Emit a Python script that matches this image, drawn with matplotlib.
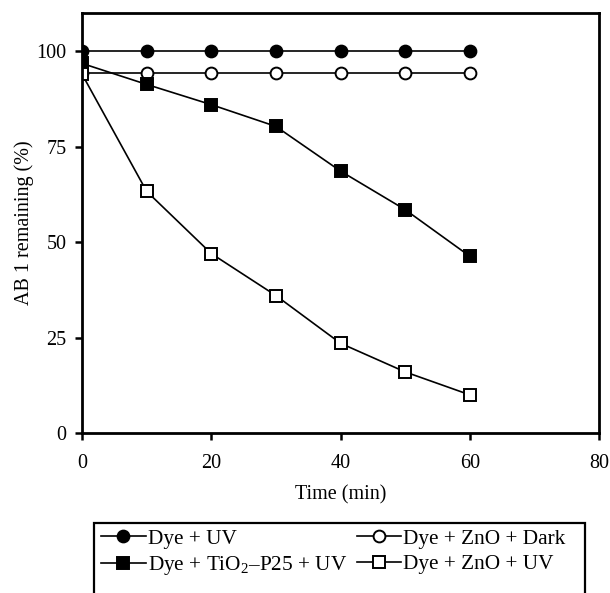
import matplotlib.pyplot as plt
from matplotlib.patches import Rectangle

plt.rcParams['font.family'] = ['Liberation Serif', 'DejaVu Serif']
plt.rcParams['mathtext.fontset'] = 'custom'
plt.rcParams['mathtext.rm'] = 'Liberation Serif'

time_min = [0, 10, 20, 30, 40, 50, 60]
dye_uv = [100, 100, 100, 100, 100, 100, 100]
zno_dark = [94.2, 94.2, 94.2, 94.2, 94.2, 94.2, 94.2]
tio2_uv = [96.8, 91.3, 86.0, 80.3, 68.6, 58.5, 46.3]
zno_uv = [94.0, 63.3, 47.0, 36.0, 23.5, 16.0, 10.0]

labels = ['Dye + UV', 'Dye + TiO$_2$\u2013P25 + UV', 'Dye + ZnO + Dark', 'Dye + ZnO + UV']

FS = 14.5

fig = plt.figure(figsize=(6.1, 5.93), dpi=100)
ax = fig.add_axes([82 / 610, 1 - 433 / 593, 517 / 610, 420 / 593])

kw = dict(color='black', lw=1.2, mew=1.4)
h1, = ax.plot(time_min, dye_uv, marker='o', mfc='black', ms=8.5, **kw)
h3, = ax.plot(time_min, zno_dark, marker='o', mfc='white', ms=8.5, **kw)
h2, = ax.plot(time_min, tio2_uv, marker='s', mfc='black', ms=8, **kw)
h4, = ax.plot(time_min, zno_uv, marker='s', mfc='white', ms=8, **kw)

ax.set_xlim(0, 80)
ax.set_ylim(0, 110)
ax.set_xticks([0, 20, 40, 60, 80])
ax.set_yticks([0, 25, 50, 75, 100])
ax.tick_params(direction='out', length=5, width=1.8, labelsize=FS)
ax.tick_params(axis='x', pad=10)
ax.tick_params(axis='y', pad=6)
for s in ax.spines.values():
    s.set_linewidth(2)
ax.set_xlabel('Time (min)', fontsize=FS, labelpad=9)
ax.set_ylabel('AB 1 remaining (%)', fontsize=FS, labelpad=2)

fig.legend([h1, h2, h3, h4], labels, ncol=2, frameon=False,
           loc='upper left', bbox_to_anchor=(101 / 610, 1 - 529 / 593),
           fontsize=15.3, handlelength=2.1, handletextpad=0.1,
           columnspacing=0.45, labelspacing=0.25, borderaxespad=0, borderpad=0)

# legend frame, cut off at the bottom of the figure
fig.patches.append(Rectangle((94 / 610, -0.05), 491 / 610, 0.05 + 1 - 523 / 593,
                             transform=fig.transFigure, fill=False,
                             edgecolor='black', lw=1.6))

fig.savefig('out.png', dpi=100)
